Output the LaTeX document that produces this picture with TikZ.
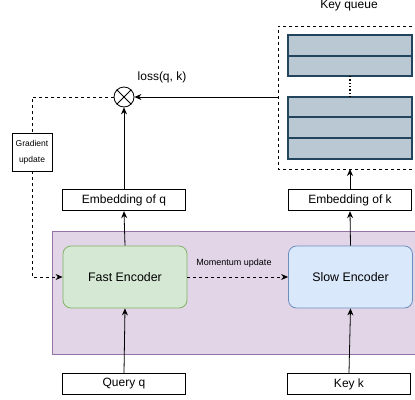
\documentclass[tikz,border=0pt]{standalone}
\usepackage{fontspec}
\setmainfont{Liberation Sans}
\usetikzlibrary{arrows.meta,calc}
\definecolor{qfill}{HTML}{BAC8D3}
\definecolor{qdraw}{HTML}{23445D}
\definecolor{pfill}{HTML}{E1D5E7}
\definecolor{pdraw}{HTML}{9673A6}
\definecolor{gfill}{HTML}{D5E8D4}
\definecolor{gdraw}{HTML}{82B366}
\definecolor{bfill}{HTML}{DAE8FC}
\definecolor{bdraw}{HTML}{6C8EBF}
\tikzset{
  plainbox/.style={draw=black,line width=1.4pt,fill=white,minimum width=123pt,minimum height=21pt,inner sep=0pt,font=\fontsize{12}{14}\selectfont},
  encbox/.style={rounded corners=8pt,line width=0.8pt,minimum width=124pt,minimum height=62pt,inner sep=0pt,font=\fontsize{12.4}{14}\selectfont},
  qrow/.style={draw=qdraw,fill=qfill,line width=1.3pt},
  arr/.style={-{Stealth[length=7pt,width=6pt]},line width=0.8pt},
  darr/.style={-{Stealth[length=7pt,width=6pt]},line width=0.8pt,dash pattern=on 3pt off 3pt},
}
\begin{document}
\begin{tikzpicture}[x=1pt,y=-1pt]
\useasboundingbox (0,0) rectangle (415,399);
\clip (0,0) rectangle (415,399);
% purple region
\draw[fill=pfill,draw=pdraw,line width=0.8pt] (52,231) rectangle (430,354);
% key queue dashed frame
\draw[dash pattern=on 3pt off 3pt,line width=0.8pt] (430,26) -- (278,26) -- (278,169) -- (430,169);
\node[font=\fontsize{12}{14}\selectfont] (kqlabel) at (349,6) {Key queue};
\coordinate (qleft) at (278,97);
\coordinate (qbottom) at (350,169);
% queue rows
\draw[qrow] (288,35) rectangle (412,56);
\draw[qrow] (288,56) rectangle (412,76);
\draw[qrow] (288,97) rectangle (412,117);
\draw[qrow] (288,117) rectangle (412,138);
\draw[qrow] (288,138) rectangle (412,159);
\coordinate (dtop) at (350,76);
\coordinate (dbot) at (350,97);
\draw[dotted,line width=1.3pt] (dtop) -- (dbot);
% loss circle
\node[draw,circle,minimum size=20pt,inner sep=0pt,line width=0.8pt] (loss) at (124,97) {};
\draw[line width=0.8pt] (loss.north west) -- (loss.south east) (loss.north east) -- (loss.south west);
\node[font=\fontsize{12}{14}\selectfont] (losslabel) at (162,77) {loss(q, k)};
% boxes
\node[plainbox] (embq) at (124,200) {Embedding of q};
\node[plainbox] (embk) at (350,200) {Embedding of k};
\node[plainbox] (query) at (124,384) {Query q};
\node[plainbox] (key) at (349,384) {Key k};
\node[encbox,draw=gdraw,fill=gfill] (fast) at (125,277) {Fast Encoder};
\node[encbox,draw=bdraw,fill=bfill] (slow) at (350.5,277) {Slow Encoder};
\node[font=\fontsize{9}{10}\selectfont] (mom) at (234,263) {Momentum update};
\node[draw,line width=0.6pt,fill=white,minimum width=40pt,minimum height=38pt,inner sep=0pt,align=center,font=\fontsize{8.5}{16}\selectfont] (grad) at (32,152) {Gradient\\update};
% connectors
\draw[arr] (query.north) -- (fast.south);
\draw[arr] (key.north) -- (slow.south);
\draw[arr] (fast.north) -- (embq.south);
\draw[arr] (slow.north) -- (embk.south);
\draw[arr] (embq.north) -- (loss.south);
\draw[arr] (embk.north) -- (qbottom);
\draw[arr] (qleft) -- (loss.east);
\draw[darr] (fast.east) -- (slow.west);
\draw[dash pattern=on 3pt off 3pt,line width=0.8pt] (loss.west) -| (grad.north);
\draw[darr] (grad.south) |- (fast.west);
\end{tikzpicture}
\end{document}
